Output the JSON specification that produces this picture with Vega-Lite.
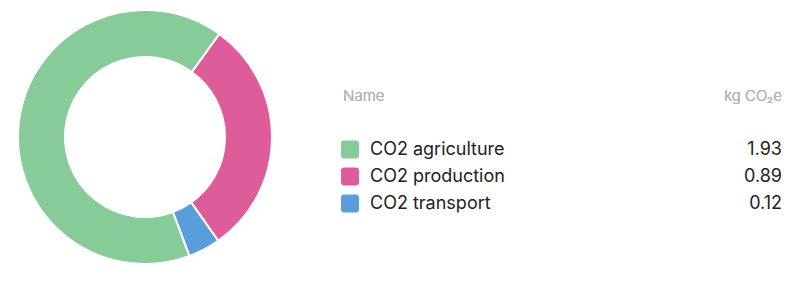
{
  "$schema": "https://vega.github.io/schema/vega-lite/v6.json",
  "padding": 0,
  "spacing": 51,
  "background": "white",
  "config": {"view": {"stroke": null}, "font": "Inter"},
  "data": {"values": [
    {"name": "CO2 agriculture", "value": 1.93, "label": "1.93", "row": 2},
    {"name": "CO2 production", "value": 0.89, "label": "0.89", "row": 3},
    {"name": "CO2 transport", "value": 0.12, "label": "0.12", "row": 4}
  ]},
  "hconcat": [
    {
      "width": 290,
      "height": 274,
      "mark": {"type": "arc", "innerRadius": 80, "outerRadius": 127, "stroke": "white", "strokeWidth": 2},
      "encoding": {
        "theta": {"field": "value", "type": "quantitative", "stack": true, "scale": {"range": [2.784, 9.067]}},
        "color": {"field": "name", "type": "nominal", "legend": null,
          "scale": {"domain": ["CO2 agriculture", "CO2 production", "CO2 transport"], "range": ["#86cb98", "#de5c99", "#589edb"]}},
        "order": {"field": "name", "sort": "ascending"}
      }
    },
    {
      "width": 432,
      "height": 274,
      "encoding": {
        "y": {"field": "row", "type": "quantitative", "axis": null,
          "scale": {"domain": [-3.537, 6.611], "reverse": true, "zero": false, "nice": false}}
      },
      "layer": [
        {
          "mark": {"type": "point", "filled": true, "opacity": 1, "size": 324,
            "shape": "M-0.67,-1H0.67A0.33,0.33 0 0 1 1,-0.67V0.67A0.33,0.33 0 0 1 0.67,1H-0.67A0.33,0.33 0 0 1 -1,0.67V-0.67A0.33,0.33 0 0 1 -0.67,-1Z"},
          "encoding": {
            "x": {"datum": 0, "type": "quantitative", "scale": {"domain": [0, 1]}, "axis": null},
            "color": {"field": "name", "type": "nominal", "legend": null,
              "scale": {"domain": ["CO2 agriculture", "CO2 production", "CO2 transport"], "range": ["#86cb98", "#de5c99", "#589edb"]}}
          }
        },
        {
          "mark": {"type": "text", "align": "left", "baseline": "middle", "dx": 20, "fontSize": 18, "color": "#222222"},
          "encoding": {
            "x": {"datum": 0, "type": "quantitative"},
            "text": {"field": "name"}
          }
        },
        {
          "mark": {"type": "text", "align": "right", "baseline": "middle", "fontSize": 18, "color": "#222222"},
          "encoding": {
            "x": {"datum": 1, "type": "quantitative"},
            "text": {"field": "label"}
          }
        },
        {
          "mark": {"type": "text", "align": "left", "baseline": "middle", "dx": -7, "fontSize": 15, "fontWeight": 300, "color": "#b3b3b3"},
          "encoding": {
            "x": {"datum": 0, "type": "quantitative"},
            "y": {"datum": 0, "type": "quantitative"},
            "text": {"value": "Name"}
          }
        },
        {
          "mark": {"type": "text", "align": "right", "baseline": "middle", "fontSize": 15, "fontWeight": 300, "color": "#b3b3b3"},
          "encoding": {
            "x": {"datum": 1, "type": "quantitative"},
            "y": {"datum": 0, "type": "quantitative"},
            "text": {"value": "kg CO₂e"}
          }
        }
      ]
    }
  ]
}
